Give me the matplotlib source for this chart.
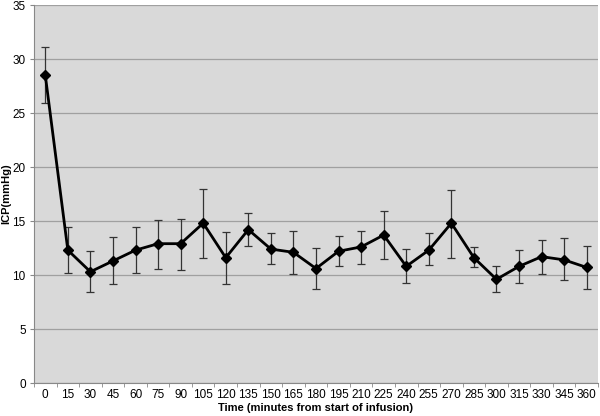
import matplotlib.pyplot as plt
import numpy as np

plt.rcParams['font.family'] = ['Liberation Sans', 'DejaVu Sans']

# Zeit (Minuten) und ICP-Mittelwerte mit Fehlerbalken
times = [0, 15, 30, 45, 60, 75, 90, 105, 120, 135, 150, 165, 180, 195, 210,
         225, 240, 255, 270, 285, 300, 315, 330, 345, 360]
icp = [28.5, 12.3, 10.3, 11.3, 12.3, 12.9, 12.9, 14.8, 11.6, 14.2, 12.4, 12.1,
       10.6, 12.2, 12.6, 13.7, 10.8, 12.3, 14.8, 11.6, 9.6, 10.8, 11.7, 11.4, 10.7]
err_top = [31.1, 14.4, 12.2, 13.5, 14.4, 15.1, 15.2, 18.0, 14.0, 15.7, 13.9, 14.1,
           12.5, 13.6, 14.1, 15.9, 12.4, 13.9, 17.9, 12.6, 10.8, 12.3, 13.2, 13.4, 12.7]
err_bot = [25.9, 10.2, 8.4, 9.2, 10.2, 10.6, 10.5, 11.6, 9.2, 12.7, 11.0, 10.1,
           8.7, 10.8, 11.0, 11.5, 9.3, 10.9, 11.6, 10.7, 8.4, 9.3, 10.1, 9.5, 8.7]

icp = np.array(icp)
yerr = [icp - np.array(err_bot), np.array(err_top) - icp]
x = np.arange(len(times))

fig = plt.figure(figsize=(6, 4.16), dpi=100)
ax = fig.add_axes([34 / 600, 33 / 416, 564 / 600, 378 / 416])
ax.set_facecolor('#d9d9d9')

ax.errorbar(x, icp, yerr=yerr, color='black', ecolor='#333333', elinewidth=0.9,
            capsize=3, capthick=0.9, lw=2, marker='D', markersize=5.5, zorder=3)

ax.set_xlim(-0.5, len(times) - 0.5)
ax.set_ylim(0, 35)
ax.set_yticks(range(0, 36, 5))
ax.yaxis.grid(True, color='#a0a0a0', lw=0.9)
ax.set_axisbelow(True)

# Kategorie-Achse wie Excel: Striche zwischen den Kategorien
ax.set_xticks(x)
ax.set_xticklabels([str(t) for t in times], fontsize=8.5)
ax.set_xticks(np.arange(-0.5, len(times), 1), minor=True)
ax.tick_params(axis='x', which='major', length=0, pad=4)
ax.tick_params(axis='x', which='minor', length=3, color='#888888')
ax.tick_params(axis='y', length=3, pad=3, color='#888888', labelsize=8.5)

for s in ['top', 'right']:
    ax.spines[s].set_visible(False)
for s in ['left', 'bottom']:
    ax.spines[s].set_color('#888888')

ax.set_xlabel('Time (minutes from start of infusion)', fontsize=8,
              fontweight='bold', labelpad=2)
ax.set_ylabel('ICP(mmHg)', fontsize=8, fontweight='bold', labelpad=1)

fig.savefig('out.png', dpi=100)
